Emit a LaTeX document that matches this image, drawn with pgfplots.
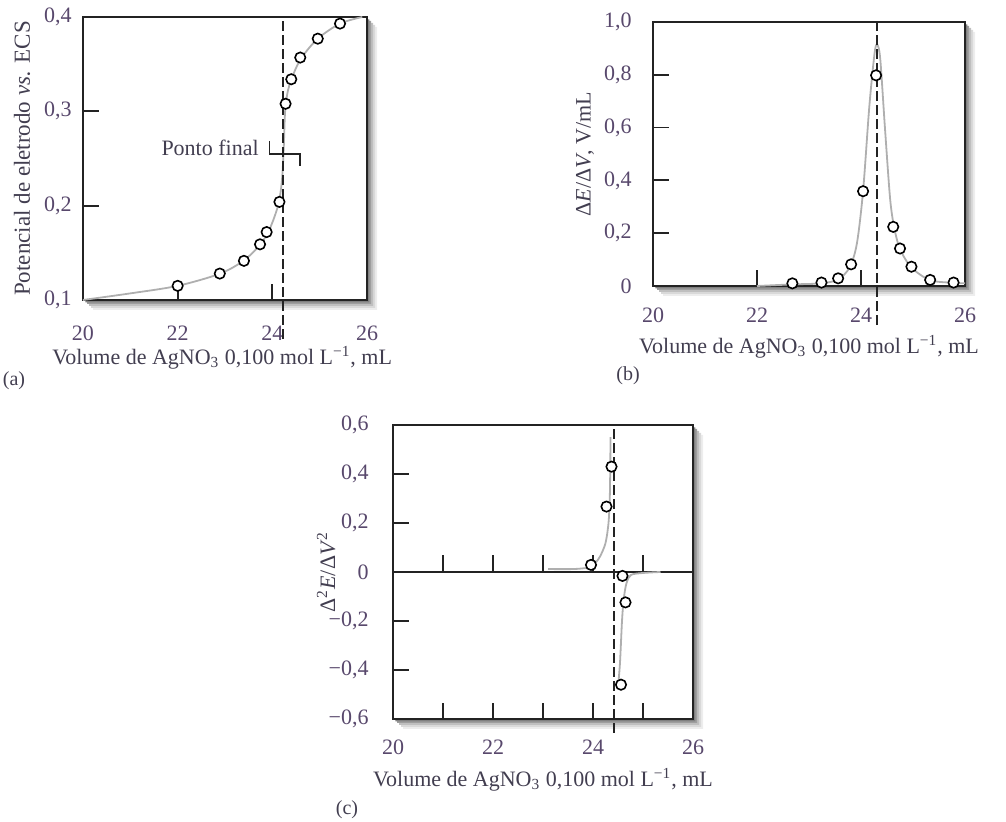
\documentclass[border=0pt]{standalone}
\usepackage{fontspec}
\setmainfont{Liberation Serif}
\usepackage{pgfplots}
\pgfplotsset{compat=1.18}
\definecolor{ticklab}{RGB}{88,72,108}
\definecolor{labcol}{RGB}{66,62,80}
\definecolor{curvegray}{RGB}{175,175,175}
\definecolor{axcol}{RGB}{35,35,35}
\pgfplotsset{
 base/.style={
  scale only axis, clip=false,
  axis line style={axcol, line width=1pt},
  tick align=inside, tick pos=left,
  major tick length=8pt, minor tick length=8pt,
  tick style={axcol, line width=0.9pt},
  every tick label/.append style={font=\fontsize{11}{13}\selectfont, text=ticklab},
  yticklabel style={inner sep=0pt, xshift=-5.5pt},
  label style={font=\fontsize{11}{13}\selectfont, text=labcol},
  xmin=20, xmax=26,
  xtick={20,22,24,26}, xticklabels={20,22,24,26},
  xlabel={Volume de AgNO\textsubscript{3} 0,100 mol L\textsuperscript{−1}, mL},
 },
 pts/.style={only marks, mark=*, mark size=2.6pt, mark options={draw=black, fill=white, line width=0.8pt}},
 cur/.style={curvegray, line width=0.9pt, smooth, tension=0.5, no marks},
 endp/.style={axcol, line width=1pt, dash pattern=on 5pt off 2pt, no marks},
}
\newcommand{\myshadowstrip}[6]{%
 \pgfmathsetmacro\shxa{#3+#5}%
 \pgfmathsetmacro\shyb{#4-#5}%
 \pgfmathsetmacro\shyc{#2-#5}%
 \pgfmathsetmacro\shxd{#1+#5}%
 \fill[#6] (#3pt,\shyb pt) -- (\shxa pt,\shyb pt) -- (\shxa pt,\shyc pt) -- (\shxd pt,\shyc pt) -- (\shxd pt,#2pt) -- (#3pt,#2pt) -- cycle;%
}
\newcommand{\myshadow}[4]{%
 \myshadowstrip{#1}{#2}{#3}{#4}{5}{black!7}%
 \myshadowstrip{#1}{#2}{#3}{#4}{4}{black!15}%
 \myshadowstrip{#1}{#2}{#3}{#4}{3}{black!25}%
 \myshadowstrip{#1}{#2}{#3}{#4}{2}{black!38}%
 \myshadowstrip{#1}{#2}{#3}{#4}{1.2}{black!50}%
}
\begin{document}
\begin{tikzpicture}
\path[use as bounding box] (0,0) rectangle (503pt,411pt);
\myshadow{41.5}{261}{183.5}{402.5}
\myshadow{326.5}{268}{482.5}{400}
\myshadow{196.5}{51.5}{346.5}{198.5}

% (a)
\begin{axis}[base, at={(41.5pt,261pt)}, anchor=south west,
  width=142pt, height=141.5pt,
  ymin=0.1, ymax=0.4,
  ytick={0.1,0.2,0.3,0.4}, yticklabels={{0,1},{0,2},{0,3},{0,4}},
  xticklabel style={anchor=center, yshift=-16.5pt},
  xlabel style={at={(axis description cs:0.49,-0.205)}, anchor=center},
  ylabel style={at={(axis description cs:-0.215,0.5)}, anchor=center, font=\fontsize{11.5}{13}\selectfont},
  ylabel={Potencial de eletrodo \textit{vs.} ECS},
]
\addplot[cur] coordinates {(20,0.100)(21,0.107)(22,0.115)(22.9,0.128)(23.4,0.142)(23.75,0.159)(23.95,0.176)(24.12,0.200)(24.2,0.225)(24.24,0.26)(24.27,0.300)(24.33,0.322)(24.45,0.340)(24.62,0.357)(24.96,0.377)(25.43,0.393)(25.9,0.400)};
\addplot[endp] coordinates {(24.23,0.059)(24.23,0.4)};
\addplot[pts] coordinates {(22.00,0.115)(22.89,0.128)(23.40,0.1415)(23.74,0.159)(23.88,0.172)(24.15,0.204)(24.28,0.308)(24.40,0.334)(24.59,0.357)(24.96,0.377)(25.43,0.393)};
\draw[axcol, line width=0.9pt] (axis cs:23.94,0.2686) -- (axis cs:23.94,0.255) -- (axis cs:24.59,0.255) -- (axis cs:24.59,0.242);
\node[anchor=east, inner sep=0pt, font=\fontsize{11}{13}\selectfont, text=labcol] at (axis cs:23.72,0.2615) {Ponto final};
\end{axis}

% (b)
\begin{axis}[base, at={(326.5pt,268pt)}, anchor=south west,
  width=156pt, height=132pt,
  ymin=0, ymax=1.0,
  ytick={0,0.2,0.4,0.6,0.8,1.0}, yticklabels={0,{0,2},{0,4},{0,6},{0,8},{1,0}},
  yticklabel style={xshift=-5pt},
  xticklabel style={anchor=center, yshift=-14.5pt},
  xlabel style={at={(axis description cs:0.5,-0.231)}, anchor=center},
  ylabel style={at={(axis description cs:-0.218,0.5)}, anchor=center},
  ylabel={Δ\textit{E}/Δ\textit{V}, V/mL},
]
\addplot[cur] coordinates {(22.0,0.0)(22.68,0.006)(23.24,0.010)(23.56,0.025)(23.78,0.07)(23.92,0.16)(24.04,0.36)(24.16,0.68)(24.26,0.88)(24.31,0.915)(24.37,0.86)(24.46,0.6)(24.56,0.33)(24.64,0.22)(24.75,0.14)(24.97,0.07)(25.33,0.022)(25.78,0.012)(26,0.01)};
\addplot[endp] coordinates {(24.31,-0.148)(24.31,1.0)};
\addplot[pts] coordinates {(22.68,0.010)(23.24,0.013)(23.56,0.029)(23.81,0.082)(24.04,0.359)(24.29,0.798)(24.62,0.224)(24.75,0.142)(24.97,0.073)(25.33,0.023)(25.78,0.013)};
\end{axis}

% (c)
\begin{axis}[base, at={(196.5pt,51.5pt)}, anchor=south west,
  width=150pt, height=147pt,
  ymin=-0.6, ymax=0.6,
  ytick={-0.6,-0.4,-0.2,0,0.2,0.4,0.6}, yticklabels={{−0,6},{−0,4},{−0,2},0,{0,2},{0,4},{0,6}},
  yticklabel style={xshift=-6.5pt},
  minor xtick={21,23,25},
  xticklabel style={anchor=center, yshift=-14pt},
  xlabel style={at={(axis description cs:0.5,-0.2075)}, anchor=center},
  ylabel style={at={(axis description cs:-0.223,0.5)}, anchor=center},
  ylabel={Δ\textsuperscript{2}\textit{E}/Δ\textit{V}\textsuperscript{2}},
]
\addplot[axcol, line width=1pt, no marks] coordinates {(20,0)(26,0)};
\pgfplotsinvokeforeach{21,22,23,24,25}{\draw[axcol, line width=0.9pt] (axis cs:#1,0) -- (axis cs:#1,0.07);}
\addplot[cur] coordinates {(23.1,0.012)(23.6,0.012)(23.9,0.018)(24.04,0.036)(24.14,0.063)(24.25,0.118)(24.31,0.2)(24.335,0.3)(24.345,0.42)(24.35,0.55)};
\addplot[cur] coordinates {(24.5,-0.47)(24.54,-0.37)(24.58,-0.2)(24.615,-0.11)(24.67,-0.045)(24.76,-0.012)(25.0,-0.004)(25.35,0.0)};
\addplot[endp] coordinates {(24.42,-0.657)(24.42,0.6)};
\addplot[pts] coordinates {(23.96,0.029)(24.27,0.267)(24.37,0.43)(24.59,-0.016)(24.65,-0.124)(24.56,-0.46)};
\end{axis}

\node[font=\fontsize{10}{12}\selectfont, text=labcol] at (7pt,220.5pt) {(a)};
\node[font=\fontsize{10}{12}\selectfont, text=labcol] at (314pt,223pt) {(b)};
\node[font=\fontsize{10}{12}\selectfont, text=labcol] at (173.5pt,6pt) {(c)};
\end{tikzpicture}
\end{document}
